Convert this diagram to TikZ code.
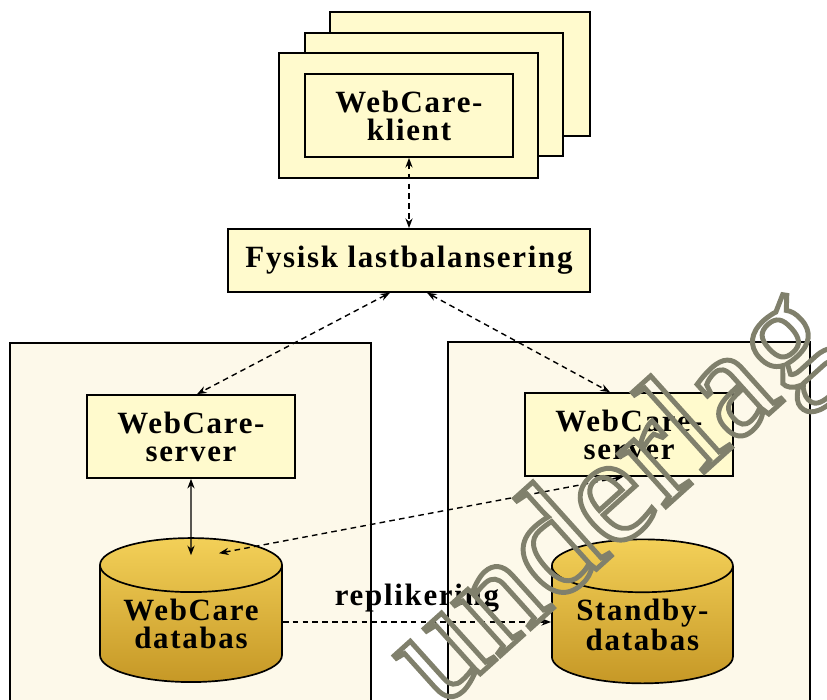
\documentclass[tikz,border=0pt]{standalone}
\usepackage{fontspec}
\setmainfont{Liberation Serif}[LetterSpace=5.5]
\newfontfamily\wmfont{Liberation Serif}
\usetikzlibrary{positioning,arrows.meta,shapes.geometric,calc}
\definecolor{boxfill}{RGB}{255,250,205}
\definecolor{areafill}{RGB}{253,249,234}
\definecolor{dbtop}{RGB}{243,208,88}
\definecolor{dbbottom}{RGB}{198,152,38}
\definecolor{wmgray}{RGB}{128,128,108}

\begin{document}
\begin{tikzpicture}[
    box/.style={draw, line width=1.2pt, fill=boxfill, align=center, inner sep=0pt,
        font=\fontsize{22}{20}\selectfont\bfseries},
    area/.style={draw, line width=1.2pt, fill=areafill},
    db/.style={cylinder, shape border rotate=90, aspect=0.4, draw, line width=1.2pt,
        top color=dbtop, bottom color=dbbottom, align=center, inner sep=0pt,
        font=\fontsize{22}{20}\selectfont\bfseries},
    link/.style={line width=1pt, dash pattern=on 4pt off 3pt, {Stealth[length=2.4mm]}-{Stealth[length=2.4mm]}},
]
    \useasboundingbox (0,0) rectangle (20.675,17.5);

    % =========================================================
    % CLIENTS (stacked)
    % =========================================================
    \draw[box] (8.25, 14.1) rectangle (14.75, 17.2);
    \draw[box] (7.625, 13.6) rectangle (14.075, 16.675);
    \draw[box] (6.975, 13.05) rectangle (13.45, 16.175);
    \node[box, minimum width=5.2cm, minimum height=2.075cm] (client) at (10.225, 14.61) {WebCare-\\klient};

    % Load balancer
    \node[box, minimum width=9.05cm, minimum height=1.575cm] (lb) at (10.225, 10.99) {Fysisk lastbalansering};

    % =========================================================
    % SITES
    % =========================================================
    \draw[area] (0.25, -0.3) rectangle (9.275, 8.925);
    \draw[area] (11.2, -0.3) rectangle (20.25, 8.95);

    % Servers
    \node[box, minimum width=5.2cm, minimum height=2.075cm] (srvL) at (4.775, 6.5875) {WebCare-\\server};
    \node[box, minimum width=5.2cm, minimum height=2.075cm] (srvR) at (15.725, 6.6375) {WebCare-\\server};

    % Databases
    \node[db, minimum width=4.55cm, minimum height=3.6cm] (dbL) at (4.775, 1.9) {WebCare\\databas};
    \node[db, minimum width=4.525cm, minimum height=3.6cm] (dbR) at (16.06, 1.875) {Standby-\\databas};

    % =========================================================
    % CONNECTIONS
    % =========================================================
    \draw[link] (client.south) -- (lb.north);
    \draw[link] ([xshift=-0.475cm]lb.south) -- ([xshift=0.15cm]srvL.north);
    \draw[link] ([xshift=0.45cm]lb.south) -- ([xshift=-0.475cm]srvR.north);
    \draw[link, solid] (srvL.south) -- ([yshift=-0.45cm]dbL.north);
    \draw[link] ([xshift=-0.15cm]srvR.south) -- ([xshift=0.7cm, yshift=-0.4cm]dbL.north);
    \draw[link, -{Stealth[length=2.4mm]}]
        ([yshift=0.05cm]dbL.east) -- ([yshift=0.05cm]dbL.east -| dbR.west)
        node[midway, above=3pt, font=\fontsize{22}{20}\selectfont\bfseries] (repl) {replikering};

    % Watermark
    \node[rotate=42, anchor=base west, inner sep=0pt, text=wmgray,
        font=\wmfont\fontsize{110}{110}\selectfont] (wm) at (11.0, -0.25)
        {\special{pdf:literal direct 1 Tr 3.5 w}underlag\special{pdf:literal direct 0 Tr}};
\end{tikzpicture}
\end{document}
